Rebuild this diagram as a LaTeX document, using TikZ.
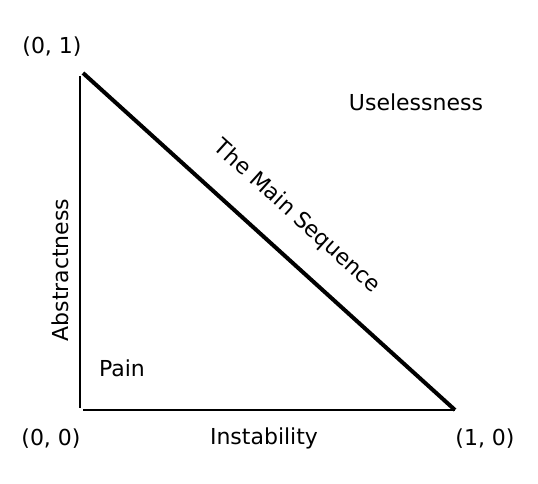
\documentclass[tikz,border=0pt]{standalone}
\usepackage{fontspec}
\setmainfont{DejaVu Sans}
\usepackage{tikz}

\begin{document}
\begin{tikzpicture}[x=1pt,y=-1pt,line width=2pt,font=\fontsize{22}{26}\selectfont]
\useasboundingbox (0,0) rectangle (538,484);
\coordinate (O) at (80,408);
\coordinate (A) at (80,76);
\coordinate (B) at (83,410);
\coordinate (E) at (455,410);
\coordinate (T) at (83,73);
\draw (A)--(O);
\draw (B)--(E);
\draw[line width=4pt] (T)--(E);
\node[inner sep=1pt] (p01) at (52,47) {(0, 1)};
\node[inner sep=1pt] (p00) at (51,439) {(0, 0)};
\node[inner sep=1pt] (p10) at (485,439) {(1, 0)};
\node[inner sep=1pt] (instab) at (264,438) {Instability};
\node[inner sep=1pt,rotate=90] (abstr) at (60,270) {Abstractness};
\node[inner sep=1pt] (pain) at (122,368) {Pain};
\node[inner sep=1pt] (useless) at (416,102) {Uselessness};
\node[inner sep=1pt,rotate=-42.2] (mainseq) at (297,217) {The Main Sequence};
\end{tikzpicture}
\end{document}
